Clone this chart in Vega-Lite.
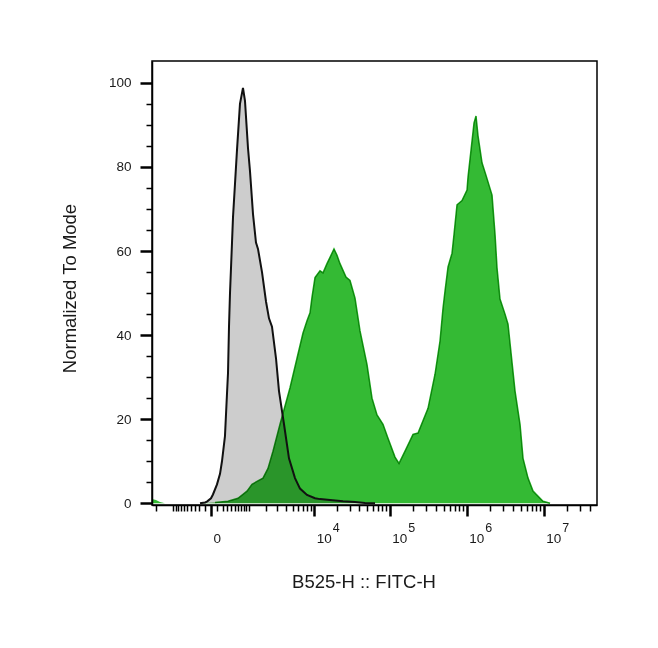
{
  "$schema": "https://vega.github.io/schema/vega-lite/v6.json",
  "width": 445,
  "height": 444,
  "autosize": {"type": "none"},
  "padding": {"left": 152, "top": 61, "right": 61, "bottom": 143},
  "background": "white",
  "config": {
    "view": {"stroke": "#000", "strokeWidth": 1.5},
    "font": "Liberation Sans",
    "axis": {"grid": false, "domainColor": "#000", "domainWidth": 1.5, "tickColor": "#000", "labelColor": "#1a1a1a", "titleColor": "#1a1a1a", "labelFont": "Liberation Sans", "titleFont": "Liberation Sans", "titleFontWeight": "normal"}
  },
  "datasets": {
    "green": [
      {"fitc": -2311, "mode": 1.0}, {"fitc": -1998, "mode": 0.8}, {"fitc": -1719, "mode": 0.3}, {"fitc": -1413, "mode": 0},
      {"fitc": -186, "mode": 0}, {"fitc": 61, "mode": 0.2}, {"fitc": 317, "mode": 0.5}, {"fitc": 594, "mode": 1.2},
      {"fitc": 925, "mode": 2.9}, {"fitc": 1151, "mode": 4.5}, {"fitc": 1413, "mode": 5.2}, {"fitc": 1786, "mode": 6},
      {"fitc": 2150, "mode": 8.3}, {"fitc": 2574, "mode": 12.4}, {"fitc": 3286, "mode": 18.8}, {"fitc": 4598, "mode": 27.5},
      {"fitc": 5779, "mode": 34.5}, {"fitc": 7008, "mode": 40.5}, {"fitc": 7959, "mode": 43.4}, {"fitc": 8752, "mode": 45.3},
      {"fitc": 9316, "mode": 49}, {"fitc": 10239, "mode": 53.7}, {"fitc": 11969, "mode": 55.3}, {"fitc": 13135, "mode": 54.8},
      {"fitc": 14861, "mode": 57}, {"fitc": 16309, "mode": 58.5}, {"fitc": 18436, "mode": 60.5}, {"fitc": 20215, "mode": 59},
      {"fitc": 22160, "mode": 57}, {"fitc": 26605, "mode": 53.8}, {"fitc": 30047, "mode": 53}, {"fitc": 34975, "mode": 48.8},
      {"fitc": 40687, "mode": 41}, {"fitc": 50286, "mode": 33}, {"fitc": 58459, "mode": 25}, {"fitc": 67972, "mode": 21},
      {"fitc": 81403, "mode": 18.8}, {"fitc": 94596, "mode": 15.5}, {"fitc": 116728, "mode": 11}, {"fitc": 131641, "mode": 9.5},
      {"fitc": 157597, "mode": 12.4}, {"fitc": 200378, "mode": 16.4}, {"fitc": 232786, "mode": 16.7}, {"fitc": 313998, "mode": 22.6},
      {"fitc": 387323, "mode": 30.7}, {"fitc": 449750, "mode": 38.6}, {"fitc": 491862, "mode": 46.4}, {"fitc": 522454, "mode": 50.5},
      {"fitc": 571688, "mode": 56.2}, {"fitc": 644344, "mode": 59.5}, {"fitc": 684018, "mode": 64}, {"fitc": 748070, "mode": 71},
      {"fitc": 868526, "mode": 72}, {"fitc": 1009058, "mode": 74.5}, {"fitc": 1039650, "mode": 77.6}, {"fitc": 1137162, "mode": 84},
      {"fitc": 1244234, "mode": 90.5}, {"fitc": 1320714, "mode": 92.1}, {"fitc": 1402452, "mode": 87.4}, {"fitc": 1580268, "mode": 81},
      {"fitc": 1781028, "mode": 78}, {"fitc": 2131880, "mode": 73.3}, {"fitc": 2331684, "mode": 64}, {"fitc": 2475084, "mode": 56},
      {"fitc": 2706914, "mode": 48.6}, {"fitc": 3144284, "mode": 45}, {"fitc": 3439210, "mode": 42.6}, {"fitc": 4241772, "mode": 26.7},
      {"fitc": 4924834, "mode": 18.8}, {"fitc": 5387060, "mode": 10.7}, {"fitc": 6256064, "mode": 6}, {"fitc": 7264644, "mode": 2.9},
      {"fitc": 9796132, "mode": 0.5}, {"fitc": 12078104, "mode": 0}, {"fitc": 49200000, "mode": 0}
    ],
    "gray": [
      {"fitc": -186, "mode": 0}, {"fitc": -94, "mode": 0.2}, {"fitc": -61, "mode": 0.4}, {"fitc": 0, "mode": 1.2},
      {"fitc": 29, "mode": 2.1}, {"fitc": 94, "mode": 4.5}, {"fitc": 148, "mode": 7}, {"fitc": 186, "mode": 10},
      {"fitc": 248, "mode": 16}, {"fitc": 293, "mode": 26}, {"fitc": 317, "mode": 31}, {"fitc": 341, "mode": 42},
      {"fitc": 366, "mode": 50}, {"fitc": 418, "mode": 62}, {"fitc": 445, "mode": 68}, {"fitc": 502, "mode": 76},
      {"fitc": 562, "mode": 84}, {"fitc": 659, "mode": 95}, {"fitc": 766, "mode": 98.8}, {"fitc": 843, "mode": 95.7},
      {"fitc": 967, "mode": 84.5}, {"fitc": 1056, "mode": 79}, {"fitc": 1201, "mode": 68.8}, {"fitc": 1357, "mode": 62},
      {"fitc": 1471, "mode": 60.5}, {"fitc": 1719, "mode": 55}, {"fitc": 1998, "mode": 48}, {"fitc": 2229, "mode": 44},
      {"fitc": 2484, "mode": 42}, {"fitc": 2861, "mode": 34.5}, {"fitc": 3174, "mode": 26.7}, {"fitc": 3764, "mode": 18.8},
      {"fitc": 4445, "mode": 10.7}, {"fitc": 5415, "mode": 6}, {"fitc": 6363, "mode": 3.5}, {"fitc": 7959, "mode": 2},
      {"fitc": 10239, "mode": 1.2}, {"fitc": 11969, "mode": 1.0}, {"fitc": 16309, "mode": 0.8}, {"fitc": 24282, "mode": 0.5},
      {"fitc": 34975, "mode": 0.3}, {"fitc": 47322, "mode": 0.1}, {"fitc": 64004, "mode": 0}
    ]
  },
  "layer": [
    {
      "data": {"name": "gray"},
      "mark": {"type": "area", "color": "#cdcdcd", "interpolate": "linear"},
      "encoding": {
        "x": {"field": "fitc", "type": "quantitative",
          "scale": {"type": "symlog", "constant": 478, "domain": [-2311, 49200000], "nice": false, "zero": false},
          "axis": {"orient": "bottom", "values": [-2000, -1000, -900, -800, -700, -600, -500, -400, -300, -200, -100, 100, 200, 300, 400, 500, 600, 700, 800, 900, 1000, 2000, 3000, 4000, 5000, 6000, 7000, 8000, 9000, 20000, 30000, 40000, 50000, 60000, 70000, 80000, 90000, 200000, 300000, 400000, 500000, 600000, 700000, 800000, 900000, 2000000, 3000000, 4000000, 5000000, 6000000, 7000000, 8000000, 9000000, 20000000, 30000000, 40000000],
            "labels": false, "title": null, "domain": false, "tickSize": 6, "tickWidth": 1.5}},
        "y": {"field": "mode", "type": "quantitative",
          "scale": {"domain": [-0.4, 105.2], "nice": false, "zero": false},
          "axis": {"orient": "left", "values": [5, 10, 15, 25, 30, 35, 45, 50, 55, 65, 70, 75, 85, 90, 95], "labels": false, "title": null, "domain": false, "tickSize": 6, "tickWidth": 1.5}}
      }
    },
    {
      "data": {"name": "green"},
      "mark": {"type": "area", "color": "#34ba34", "interpolate": "linear", "blend": "multiply"},
      "encoding": {
        "x": {"field": "fitc", "type": "quantitative",
          "axis": {"orient": "bottom", "values": [0, 10000, 100000, 1000000, 10000000],
            "labelExpr": "datum.value == 0 ? '0' : '10'", "labelAlign": "left", "labelOffset": 2, "labelBaseline": "top",
            "labelFontSize": 13.5, "labelPadding": 15, "labelFlush": false, "labelOverlap": false, "labelBound": false,
            "tickSize": 11, "tickWidth": 2.5,
            "title": "B525-H :: FITC-H", "titleFontSize": 18.5, "titleX": 211.5, "titleY": 82, "titleAlign": "center", "titleBaseline": "alphabetic", "titleAnchor": null}},
        "y": {"field": "mode", "type": "quantitative",
          "axis": {"orient": "left", "values": [0, 20, 40, 60, 80, 100], "labelFontSize": 13.5, "labelPadding": 9, "tickSize": 12, "tickWidth": 2.5,
            "title": "Normalized To Mode", "titleFontSize": 18.5, "titleX": -77, "titleY": 227, "titleAngle": 270, "titleAlign": "center", "titleBaseline": "alphabetic"}}
      }
    },
    {
      "data": {"name": "green"},
      "transform": [{"filter": "datum.fitc > 0 && datum.fitc <= 12100000"}],
      "mark": {"type": "line", "color": "#1ca61c", "strokeWidth": 1.5, "interpolate": "linear", "blend": "multiply"},
      "encoding": {
        "x": {"field": "fitc", "type": "quantitative",
          "axis": {"orient": "bottom", "values": [10000, 100000, 1000000, 10000000],
            "labelExpr": "datum.value >= 10000000 ? '7' : datum.value >= 1000000 ? '6' : datum.value >= 100000 ? '5' : '4'",
            "labelAlign": "left", "labelOffset": 18, "labelBaseline": "top", "labelFontSize": 12.5, "labelPadding": 16,
            "labelFlush": false, "labelOverlap": false, "labelBound": false, "ticks": false, "tickSize": 0, "domain": false, "title": null}},
        "y": {"field": "mode", "type": "quantitative", "axis": null}
      }
    },
    {
      "data": {"name": "gray"},
      "mark": {"type": "line", "color": "#111111", "strokeWidth": 2, "interpolate": "linear"},
      "encoding": {
        "x": {"field": "fitc", "type": "quantitative", "axis": null},
        "y": {"field": "mode", "type": "quantitative", "axis": null}
      }
    }
  ],
  "resolve": {"axis": {"x": "independent", "y": "independent"}}
}
